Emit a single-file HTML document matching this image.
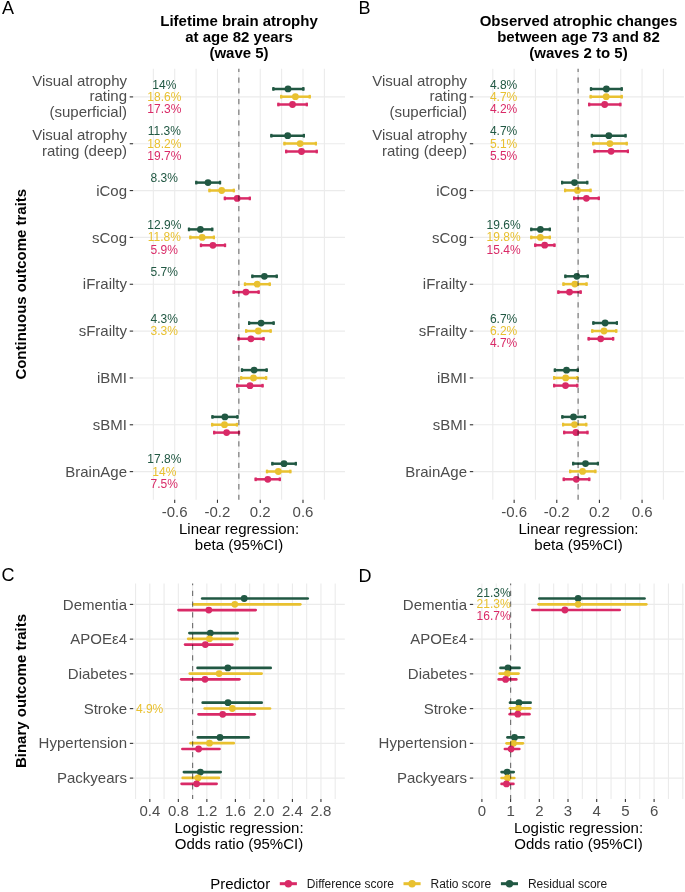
<!DOCTYPE html><html><head><meta charset="utf-8"><style>html,body{margin:0;padding:0;background:#fff;}svg{display:block;will-change:transform;}text{font-family:"Liberation Sans", sans-serif;}</style></head><body>
<svg width="685" height="892" viewBox="0 0 685 892">
<rect width="685" height="892" fill="#fff"/>
<line x1="153.33" y1="68.80" x2="153.33" y2="499.70" stroke="#EBEBEB" stroke-width="1.1"/>
<line x1="174.71" y1="68.80" x2="174.71" y2="499.70" stroke="#EBEBEB" stroke-width="1.1"/>
<line x1="196.09" y1="68.80" x2="196.09" y2="499.70" stroke="#EBEBEB" stroke-width="1.1"/>
<line x1="217.47" y1="68.80" x2="217.47" y2="499.70" stroke="#EBEBEB" stroke-width="1.1"/>
<line x1="238.85" y1="68.80" x2="238.85" y2="499.70" stroke="#EBEBEB" stroke-width="1.1"/>
<line x1="260.23" y1="68.80" x2="260.23" y2="499.70" stroke="#EBEBEB" stroke-width="1.1"/>
<line x1="281.61" y1="68.80" x2="281.61" y2="499.70" stroke="#EBEBEB" stroke-width="1.1"/>
<line x1="302.99" y1="68.80" x2="302.99" y2="499.70" stroke="#EBEBEB" stroke-width="1.1"/>
<line x1="324.37" y1="68.80" x2="324.37" y2="499.70" stroke="#EBEBEB" stroke-width="1.1"/>
<line x1="133.10" y1="96.90" x2="345.00" y2="96.90" stroke="#EBEBEB" stroke-width="1.1"/>
<line x1="133.10" y1="143.74" x2="345.00" y2="143.74" stroke="#EBEBEB" stroke-width="1.1"/>
<line x1="133.10" y1="190.58" x2="345.00" y2="190.58" stroke="#EBEBEB" stroke-width="1.1"/>
<line x1="133.10" y1="237.42" x2="345.00" y2="237.42" stroke="#EBEBEB" stroke-width="1.1"/>
<line x1="133.10" y1="284.26" x2="345.00" y2="284.26" stroke="#EBEBEB" stroke-width="1.1"/>
<line x1="133.10" y1="331.10" x2="345.00" y2="331.10" stroke="#EBEBEB" stroke-width="1.1"/>
<line x1="133.10" y1="377.94" x2="345.00" y2="377.94" stroke="#EBEBEB" stroke-width="1.1"/>
<line x1="133.10" y1="424.78" x2="345.00" y2="424.78" stroke="#EBEBEB" stroke-width="1.1"/>
<line x1="133.10" y1="471.62" x2="345.00" y2="471.62" stroke="#EBEBEB" stroke-width="1.1"/>
<line x1="492.82" y1="68.80" x2="492.82" y2="499.70" stroke="#EBEBEB" stroke-width="1.1"/>
<line x1="514.14" y1="68.80" x2="514.14" y2="499.70" stroke="#EBEBEB" stroke-width="1.1"/>
<line x1="535.46" y1="68.80" x2="535.46" y2="499.70" stroke="#EBEBEB" stroke-width="1.1"/>
<line x1="556.78" y1="68.80" x2="556.78" y2="499.70" stroke="#EBEBEB" stroke-width="1.1"/>
<line x1="578.10" y1="68.80" x2="578.10" y2="499.70" stroke="#EBEBEB" stroke-width="1.1"/>
<line x1="599.42" y1="68.80" x2="599.42" y2="499.70" stroke="#EBEBEB" stroke-width="1.1"/>
<line x1="620.74" y1="68.80" x2="620.74" y2="499.70" stroke="#EBEBEB" stroke-width="1.1"/>
<line x1="642.06" y1="68.80" x2="642.06" y2="499.70" stroke="#EBEBEB" stroke-width="1.1"/>
<line x1="663.38" y1="68.80" x2="663.38" y2="499.70" stroke="#EBEBEB" stroke-width="1.1"/>
<line x1="473.20" y1="96.90" x2="683.90" y2="96.90" stroke="#EBEBEB" stroke-width="1.1"/>
<line x1="473.20" y1="143.74" x2="683.90" y2="143.74" stroke="#EBEBEB" stroke-width="1.1"/>
<line x1="473.20" y1="190.58" x2="683.90" y2="190.58" stroke="#EBEBEB" stroke-width="1.1"/>
<line x1="473.20" y1="237.42" x2="683.90" y2="237.42" stroke="#EBEBEB" stroke-width="1.1"/>
<line x1="473.20" y1="284.26" x2="683.90" y2="284.26" stroke="#EBEBEB" stroke-width="1.1"/>
<line x1="473.20" y1="331.10" x2="683.90" y2="331.10" stroke="#EBEBEB" stroke-width="1.1"/>
<line x1="473.20" y1="377.94" x2="683.90" y2="377.94" stroke="#EBEBEB" stroke-width="1.1"/>
<line x1="473.20" y1="424.78" x2="683.90" y2="424.78" stroke="#EBEBEB" stroke-width="1.1"/>
<line x1="473.20" y1="471.62" x2="683.90" y2="471.62" stroke="#EBEBEB" stroke-width="1.1"/>
<line x1="135.56" y1="583.60" x2="135.56" y2="798.90" stroke="#EBEBEB" stroke-width="1.1"/>
<line x1="149.82" y1="583.60" x2="149.82" y2="798.90" stroke="#EBEBEB" stroke-width="1.1"/>
<line x1="164.08" y1="583.60" x2="164.08" y2="798.90" stroke="#EBEBEB" stroke-width="1.1"/>
<line x1="178.34" y1="583.60" x2="178.34" y2="798.90" stroke="#EBEBEB" stroke-width="1.1"/>
<line x1="192.60" y1="583.60" x2="192.60" y2="798.90" stroke="#EBEBEB" stroke-width="1.1"/>
<line x1="206.86" y1="583.60" x2="206.86" y2="798.90" stroke="#EBEBEB" stroke-width="1.1"/>
<line x1="221.12" y1="583.60" x2="221.12" y2="798.90" stroke="#EBEBEB" stroke-width="1.1"/>
<line x1="235.38" y1="583.60" x2="235.38" y2="798.90" stroke="#EBEBEB" stroke-width="1.1"/>
<line x1="249.64" y1="583.60" x2="249.64" y2="798.90" stroke="#EBEBEB" stroke-width="1.1"/>
<line x1="263.90" y1="583.60" x2="263.90" y2="798.90" stroke="#EBEBEB" stroke-width="1.1"/>
<line x1="278.16" y1="583.60" x2="278.16" y2="798.90" stroke="#EBEBEB" stroke-width="1.1"/>
<line x1="292.42" y1="583.60" x2="292.42" y2="798.90" stroke="#EBEBEB" stroke-width="1.1"/>
<line x1="306.68" y1="583.60" x2="306.68" y2="798.90" stroke="#EBEBEB" stroke-width="1.1"/>
<line x1="320.94" y1="583.60" x2="320.94" y2="798.90" stroke="#EBEBEB" stroke-width="1.1"/>
<line x1="335.20" y1="583.60" x2="335.20" y2="798.90" stroke="#EBEBEB" stroke-width="1.1"/>
<line x1="133.20" y1="604.40" x2="344.80" y2="604.40" stroke="#EBEBEB" stroke-width="1.1"/>
<line x1="133.20" y1="639.14" x2="344.80" y2="639.14" stroke="#EBEBEB" stroke-width="1.1"/>
<line x1="133.20" y1="673.88" x2="344.80" y2="673.88" stroke="#EBEBEB" stroke-width="1.1"/>
<line x1="133.20" y1="708.62" x2="344.80" y2="708.62" stroke="#EBEBEB" stroke-width="1.1"/>
<line x1="133.20" y1="743.36" x2="344.80" y2="743.36" stroke="#EBEBEB" stroke-width="1.1"/>
<line x1="133.20" y1="778.10" x2="344.80" y2="778.10" stroke="#EBEBEB" stroke-width="1.1"/>
<line x1="481.90" y1="583.60" x2="481.90" y2="798.90" stroke="#EBEBEB" stroke-width="1.1"/>
<line x1="496.25" y1="583.60" x2="496.25" y2="798.90" stroke="#EBEBEB" stroke-width="1.1"/>
<line x1="510.60" y1="583.60" x2="510.60" y2="798.90" stroke="#EBEBEB" stroke-width="1.1"/>
<line x1="524.95" y1="583.60" x2="524.95" y2="798.90" stroke="#EBEBEB" stroke-width="1.1"/>
<line x1="539.30" y1="583.60" x2="539.30" y2="798.90" stroke="#EBEBEB" stroke-width="1.1"/>
<line x1="553.65" y1="583.60" x2="553.65" y2="798.90" stroke="#EBEBEB" stroke-width="1.1"/>
<line x1="568.00" y1="583.60" x2="568.00" y2="798.90" stroke="#EBEBEB" stroke-width="1.1"/>
<line x1="582.35" y1="583.60" x2="582.35" y2="798.90" stroke="#EBEBEB" stroke-width="1.1"/>
<line x1="596.70" y1="583.60" x2="596.70" y2="798.90" stroke="#EBEBEB" stroke-width="1.1"/>
<line x1="611.05" y1="583.60" x2="611.05" y2="798.90" stroke="#EBEBEB" stroke-width="1.1"/>
<line x1="625.40" y1="583.60" x2="625.40" y2="798.90" stroke="#EBEBEB" stroke-width="1.1"/>
<line x1="639.75" y1="583.60" x2="639.75" y2="798.90" stroke="#EBEBEB" stroke-width="1.1"/>
<line x1="654.10" y1="583.60" x2="654.10" y2="798.90" stroke="#EBEBEB" stroke-width="1.1"/>
<line x1="668.45" y1="583.60" x2="668.45" y2="798.90" stroke="#EBEBEB" stroke-width="1.1"/>
<line x1="682.80" y1="583.60" x2="682.80" y2="798.90" stroke="#EBEBEB" stroke-width="1.1"/>
<line x1="473.20" y1="604.40" x2="683.80" y2="604.40" stroke="#EBEBEB" stroke-width="1.1"/>
<line x1="473.20" y1="639.14" x2="683.80" y2="639.14" stroke="#EBEBEB" stroke-width="1.1"/>
<line x1="473.20" y1="673.88" x2="683.80" y2="673.88" stroke="#EBEBEB" stroke-width="1.1"/>
<line x1="473.20" y1="708.62" x2="683.80" y2="708.62" stroke="#EBEBEB" stroke-width="1.1"/>
<line x1="473.20" y1="743.36" x2="683.80" y2="743.36" stroke="#EBEBEB" stroke-width="1.1"/>
<line x1="473.20" y1="778.10" x2="683.80" y2="778.10" stroke="#EBEBEB" stroke-width="1.1"/>
<line x1="272.30" y1="88.90" x2="304.40" y2="88.90" stroke="#215843" stroke-width="2.5"/>
<rect x="272.30" y="87.05" width="2.2" height="3.7" fill="#215843"/>
<rect x="302.20" y="87.05" width="2.2" height="3.7" fill="#215843"/>
<circle cx="288.00" cy="88.90" r="3.4" fill="#215843"/>
<line x1="280.10" y1="96.70" x2="310.80" y2="96.70" stroke="#E9C130" stroke-width="2.5"/>
<rect x="280.10" y="94.85" width="2.2" height="3.7" fill="#E9C130"/>
<rect x="308.60" y="94.85" width="2.2" height="3.7" fill="#E9C130"/>
<circle cx="295.40" cy="96.70" r="3.4" fill="#E9C130"/>
<line x1="277.30" y1="104.50" x2="307.90" y2="104.50" stroke="#D92A67" stroke-width="2.5"/>
<rect x="277.30" y="102.65" width="2.2" height="3.7" fill="#D92A67"/>
<rect x="305.70" y="102.65" width="2.2" height="3.7" fill="#D92A67"/>
<circle cx="292.50" cy="104.50" r="3.4" fill="#D92A67"/>
<line x1="270.30" y1="135.70" x2="305.00" y2="135.70" stroke="#215843" stroke-width="2.5"/>
<rect x="270.30" y="133.85" width="2.2" height="3.7" fill="#215843"/>
<rect x="302.80" y="133.85" width="2.2" height="3.7" fill="#215843"/>
<circle cx="287.70" cy="135.70" r="3.4" fill="#215843"/>
<line x1="283.40" y1="143.60" x2="317.00" y2="143.60" stroke="#E9C130" stroke-width="2.5"/>
<rect x="283.40" y="141.75" width="2.2" height="3.7" fill="#E9C130"/>
<rect x="314.80" y="141.75" width="2.2" height="3.7" fill="#E9C130"/>
<circle cx="300.10" cy="143.60" r="3.4" fill="#E9C130"/>
<line x1="285.10" y1="151.50" x2="317.80" y2="151.50" stroke="#D92A67" stroke-width="2.5"/>
<rect x="285.10" y="149.65" width="2.2" height="3.7" fill="#D92A67"/>
<rect x="315.60" y="149.65" width="2.2" height="3.7" fill="#D92A67"/>
<circle cx="301.50" cy="151.50" r="3.4" fill="#D92A67"/>
<line x1="195.20" y1="182.60" x2="221.10" y2="182.60" stroke="#215843" stroke-width="2.5"/>
<rect x="195.20" y="180.75" width="2.2" height="3.7" fill="#215843"/>
<rect x="218.90" y="180.75" width="2.2" height="3.7" fill="#215843"/>
<circle cx="208.00" cy="182.60" r="3.4" fill="#215843"/>
<line x1="208.40" y1="190.50" x2="234.90" y2="190.50" stroke="#E9C130" stroke-width="2.5"/>
<rect x="208.40" y="188.65" width="2.2" height="3.7" fill="#E9C130"/>
<rect x="232.70" y="188.65" width="2.2" height="3.7" fill="#E9C130"/>
<circle cx="221.70" cy="190.50" r="3.4" fill="#E9C130"/>
<line x1="223.80" y1="198.40" x2="250.90" y2="198.40" stroke="#D92A67" stroke-width="2.5"/>
<rect x="223.80" y="196.55" width="2.2" height="3.7" fill="#D92A67"/>
<rect x="248.70" y="196.55" width="2.2" height="3.7" fill="#D92A67"/>
<circle cx="237.20" cy="198.40" r="3.4" fill="#D92A67"/>
<line x1="187.90" y1="229.40" x2="213.30" y2="229.40" stroke="#215843" stroke-width="2.5"/>
<rect x="187.90" y="227.55" width="2.2" height="3.7" fill="#215843"/>
<rect x="211.10" y="227.55" width="2.2" height="3.7" fill="#215843"/>
<circle cx="200.40" cy="229.40" r="3.4" fill="#215843"/>
<line x1="189.30" y1="237.40" x2="215.00" y2="237.40" stroke="#E9C130" stroke-width="2.5"/>
<rect x="189.30" y="235.55" width="2.2" height="3.7" fill="#E9C130"/>
<rect x="212.80" y="235.55" width="2.2" height="3.7" fill="#E9C130"/>
<circle cx="202.20" cy="237.40" r="3.4" fill="#E9C130"/>
<line x1="199.90" y1="245.30" x2="226.10" y2="245.30" stroke="#D92A67" stroke-width="2.5"/>
<rect x="199.90" y="243.45" width="2.2" height="3.7" fill="#D92A67"/>
<rect x="223.90" y="243.45" width="2.2" height="3.7" fill="#D92A67"/>
<circle cx="212.90" cy="245.30" r="3.4" fill="#D92A67"/>
<line x1="251.30" y1="276.30" x2="277.80" y2="276.30" stroke="#215843" stroke-width="2.5"/>
<rect x="251.30" y="274.45" width="2.2" height="3.7" fill="#215843"/>
<rect x="275.60" y="274.45" width="2.2" height="3.7" fill="#215843"/>
<circle cx="264.40" cy="276.30" r="3.4" fill="#215843"/>
<line x1="243.90" y1="284.20" x2="270.80" y2="284.20" stroke="#E9C130" stroke-width="2.5"/>
<rect x="243.90" y="282.35" width="2.2" height="3.7" fill="#E9C130"/>
<rect x="268.60" y="282.35" width="2.2" height="3.7" fill="#E9C130"/>
<circle cx="257.10" cy="284.20" r="3.4" fill="#E9C130"/>
<line x1="232.60" y1="292.10" x2="259.70" y2="292.10" stroke="#D92A67" stroke-width="2.5"/>
<rect x="232.60" y="290.25" width="2.2" height="3.7" fill="#D92A67"/>
<rect x="257.50" y="290.25" width="2.2" height="3.7" fill="#D92A67"/>
<circle cx="245.90" cy="292.10" r="3.4" fill="#D92A67"/>
<line x1="248.00" y1="323.10" x2="274.70" y2="323.10" stroke="#215843" stroke-width="2.5"/>
<rect x="248.00" y="321.25" width="2.2" height="3.7" fill="#215843"/>
<rect x="272.50" y="321.25" width="2.2" height="3.7" fill="#215843"/>
<circle cx="261.10" cy="323.10" r="3.4" fill="#215843"/>
<line x1="245.10" y1="331.00" x2="271.70" y2="331.00" stroke="#E9C130" stroke-width="2.5"/>
<rect x="245.10" y="329.15" width="2.2" height="3.7" fill="#E9C130"/>
<rect x="269.50" y="329.15" width="2.2" height="3.7" fill="#E9C130"/>
<circle cx="258.30" cy="331.00" r="3.4" fill="#E9C130"/>
<line x1="237.50" y1="338.80" x2="264.60" y2="338.80" stroke="#D92A67" stroke-width="2.5"/>
<rect x="237.50" y="336.95" width="2.2" height="3.7" fill="#D92A67"/>
<rect x="262.40" y="336.95" width="2.2" height="3.7" fill="#D92A67"/>
<circle cx="250.90" cy="338.80" r="3.4" fill="#D92A67"/>
<line x1="240.90" y1="370.10" x2="267.70" y2="370.10" stroke="#215843" stroke-width="2.5"/>
<rect x="240.90" y="368.25" width="2.2" height="3.7" fill="#215843"/>
<rect x="265.50" y="368.25" width="2.2" height="3.7" fill="#215843"/>
<circle cx="254.10" cy="370.10" r="3.4" fill="#215843"/>
<line x1="240.10" y1="378.00" x2="267.20" y2="378.00" stroke="#E9C130" stroke-width="2.5"/>
<rect x="240.10" y="376.15" width="2.2" height="3.7" fill="#E9C130"/>
<rect x="265.00" y="376.15" width="2.2" height="3.7" fill="#E9C130"/>
<circle cx="253.50" cy="378.00" r="3.4" fill="#E9C130"/>
<line x1="236.20" y1="385.70" x2="263.60" y2="385.70" stroke="#D92A67" stroke-width="2.5"/>
<rect x="236.20" y="383.85" width="2.2" height="3.7" fill="#D92A67"/>
<rect x="261.40" y="383.85" width="2.2" height="3.7" fill="#D92A67"/>
<circle cx="250.00" cy="385.70" r="3.4" fill="#D92A67"/>
<line x1="211.40" y1="416.90" x2="238.50" y2="416.90" stroke="#215843" stroke-width="2.5"/>
<rect x="211.40" y="415.05" width="2.2" height="3.7" fill="#215843"/>
<rect x="236.30" y="415.05" width="2.2" height="3.7" fill="#215843"/>
<circle cx="224.90" cy="416.90" r="3.4" fill="#215843"/>
<line x1="211.10" y1="424.70" x2="238.00" y2="424.70" stroke="#E9C130" stroke-width="2.5"/>
<rect x="211.10" y="422.85" width="2.2" height="3.7" fill="#E9C130"/>
<rect x="235.80" y="422.85" width="2.2" height="3.7" fill="#E9C130"/>
<circle cx="224.50" cy="424.70" r="3.4" fill="#E9C130"/>
<line x1="213.10" y1="432.60" x2="240.10" y2="432.60" stroke="#D92A67" stroke-width="2.5"/>
<rect x="213.10" y="430.75" width="2.2" height="3.7" fill="#D92A67"/>
<rect x="237.90" y="430.75" width="2.2" height="3.7" fill="#D92A67"/>
<circle cx="226.60" cy="432.60" r="3.4" fill="#D92A67"/>
<line x1="271.30" y1="463.70" x2="296.90" y2="463.70" stroke="#215843" stroke-width="2.5"/>
<rect x="271.30" y="461.85" width="2.2" height="3.7" fill="#215843"/>
<rect x="294.70" y="461.85" width="2.2" height="3.7" fill="#215843"/>
<circle cx="284.00" cy="463.70" r="3.4" fill="#215843"/>
<line x1="265.90" y1="471.50" x2="291.40" y2="471.50" stroke="#E9C130" stroke-width="2.5"/>
<rect x="265.90" y="469.65" width="2.2" height="3.7" fill="#E9C130"/>
<rect x="289.20" y="469.65" width="2.2" height="3.7" fill="#E9C130"/>
<circle cx="278.30" cy="471.50" r="3.4" fill="#E9C130"/>
<line x1="254.60" y1="479.30" x2="280.90" y2="479.30" stroke="#D92A67" stroke-width="2.5"/>
<rect x="254.60" y="477.45" width="2.2" height="3.7" fill="#D92A67"/>
<rect x="278.70" y="477.45" width="2.2" height="3.7" fill="#D92A67"/>
<circle cx="267.80" cy="479.30" r="3.4" fill="#D92A67"/>
<line x1="589.90" y1="89.00" x2="622.80" y2="89.00" stroke="#215843" stroke-width="2.5"/>
<rect x="589.90" y="87.15" width="2.2" height="3.7" fill="#215843"/>
<rect x="620.60" y="87.15" width="2.2" height="3.7" fill="#215843"/>
<circle cx="606.40" cy="89.00" r="3.4" fill="#215843"/>
<line x1="589.60" y1="96.70" x2="622.80" y2="96.70" stroke="#E9C130" stroke-width="2.5"/>
<rect x="589.60" y="94.85" width="2.2" height="3.7" fill="#E9C130"/>
<rect x="620.60" y="94.85" width="2.2" height="3.7" fill="#E9C130"/>
<circle cx="606.20" cy="96.70" r="3.4" fill="#E9C130"/>
<line x1="588.10" y1="104.50" x2="621.40" y2="104.50" stroke="#D92A67" stroke-width="2.5"/>
<rect x="588.10" y="102.65" width="2.2" height="3.7" fill="#D92A67"/>
<rect x="619.20" y="102.65" width="2.2" height="3.7" fill="#D92A67"/>
<circle cx="604.70" cy="104.50" r="3.4" fill="#D92A67"/>
<line x1="590.80" y1="135.70" x2="626.60" y2="135.70" stroke="#215843" stroke-width="2.5"/>
<rect x="590.80" y="133.85" width="2.2" height="3.7" fill="#215843"/>
<rect x="624.40" y="133.85" width="2.2" height="3.7" fill="#215843"/>
<circle cx="608.80" cy="135.70" r="3.4" fill="#215843"/>
<line x1="592.20" y1="143.60" x2="627.80" y2="143.60" stroke="#E9C130" stroke-width="2.5"/>
<rect x="592.20" y="141.75" width="2.2" height="3.7" fill="#E9C130"/>
<rect x="625.60" y="141.75" width="2.2" height="3.7" fill="#E9C130"/>
<circle cx="609.90" cy="143.60" r="3.4" fill="#E9C130"/>
<line x1="593.40" y1="151.30" x2="629.00" y2="151.30" stroke="#D92A67" stroke-width="2.5"/>
<rect x="593.40" y="149.45" width="2.2" height="3.7" fill="#D92A67"/>
<rect x="626.80" y="149.45" width="2.2" height="3.7" fill="#D92A67"/>
<circle cx="611.10" cy="151.30" r="3.4" fill="#D92A67"/>
<line x1="561.00" y1="182.60" x2="588.30" y2="182.60" stroke="#215843" stroke-width="2.5"/>
<rect x="561.00" y="180.75" width="2.2" height="3.7" fill="#215843"/>
<rect x="586.10" y="180.75" width="2.2" height="3.7" fill="#215843"/>
<circle cx="574.50" cy="182.60" r="3.4" fill="#215843"/>
<line x1="564.00" y1="190.40" x2="591.60" y2="190.40" stroke="#E9C130" stroke-width="2.5"/>
<rect x="564.00" y="188.55" width="2.2" height="3.7" fill="#E9C130"/>
<rect x="589.40" y="188.55" width="2.2" height="3.7" fill="#E9C130"/>
<circle cx="577.50" cy="190.40" r="3.4" fill="#E9C130"/>
<line x1="573.00" y1="198.30" x2="599.90" y2="198.30" stroke="#D92A67" stroke-width="2.5"/>
<rect x="573.00" y="196.45" width="2.2" height="3.7" fill="#D92A67"/>
<rect x="597.70" y="196.45" width="2.2" height="3.7" fill="#D92A67"/>
<circle cx="586.40" cy="198.30" r="3.4" fill="#D92A67"/>
<line x1="530.20" y1="229.40" x2="550.90" y2="229.40" stroke="#215843" stroke-width="2.5"/>
<rect x="530.20" y="227.55" width="2.2" height="3.7" fill="#215843"/>
<rect x="548.70" y="227.55" width="2.2" height="3.7" fill="#215843"/>
<circle cx="540.40" cy="229.40" r="3.4" fill="#215843"/>
<line x1="530.20" y1="237.40" x2="550.90" y2="237.40" stroke="#E9C130" stroke-width="2.5"/>
<rect x="530.20" y="235.55" width="2.2" height="3.7" fill="#E9C130"/>
<rect x="548.70" y="235.55" width="2.2" height="3.7" fill="#E9C130"/>
<circle cx="540.40" cy="237.40" r="3.4" fill="#E9C130"/>
<line x1="534.20" y1="245.20" x2="555.50" y2="245.20" stroke="#D92A67" stroke-width="2.5"/>
<rect x="534.20" y="243.35" width="2.2" height="3.7" fill="#D92A67"/>
<rect x="553.30" y="243.35" width="2.2" height="3.7" fill="#D92A67"/>
<circle cx="544.70" cy="245.20" r="3.4" fill="#D92A67"/>
<line x1="564.30" y1="276.30" x2="588.80" y2="276.30" stroke="#215843" stroke-width="2.5"/>
<rect x="564.30" y="274.45" width="2.2" height="3.7" fill="#215843"/>
<rect x="586.60" y="274.45" width="2.2" height="3.7" fill="#215843"/>
<circle cx="576.80" cy="276.30" r="3.4" fill="#215843"/>
<line x1="562.40" y1="284.10" x2="587.60" y2="284.10" stroke="#E9C130" stroke-width="2.5"/>
<rect x="562.40" y="282.25" width="2.2" height="3.7" fill="#E9C130"/>
<rect x="585.40" y="282.25" width="2.2" height="3.7" fill="#E9C130"/>
<circle cx="574.80" cy="284.10" r="3.4" fill="#E9C130"/>
<line x1="557.30" y1="292.10" x2="581.70" y2="292.10" stroke="#D92A67" stroke-width="2.5"/>
<rect x="557.30" y="290.25" width="2.2" height="3.7" fill="#D92A67"/>
<rect x="579.50" y="290.25" width="2.2" height="3.7" fill="#D92A67"/>
<circle cx="569.50" cy="292.10" r="3.4" fill="#D92A67"/>
<line x1="592.30" y1="323.00" x2="618.00" y2="323.00" stroke="#215843" stroke-width="2.5"/>
<rect x="592.30" y="321.15" width="2.2" height="3.7" fill="#215843"/>
<rect x="615.80" y="321.15" width="2.2" height="3.7" fill="#215843"/>
<circle cx="605.10" cy="323.00" r="3.4" fill="#215843"/>
<line x1="591.20" y1="331.00" x2="617.30" y2="331.00" stroke="#E9C130" stroke-width="2.5"/>
<rect x="591.20" y="329.15" width="2.2" height="3.7" fill="#E9C130"/>
<rect x="615.10" y="329.15" width="2.2" height="3.7" fill="#E9C130"/>
<circle cx="604.00" cy="331.00" r="3.4" fill="#E9C130"/>
<line x1="587.60" y1="338.80" x2="614.20" y2="338.80" stroke="#D92A67" stroke-width="2.5"/>
<rect x="587.60" y="336.95" width="2.2" height="3.7" fill="#D92A67"/>
<rect x="612.00" y="336.95" width="2.2" height="3.7" fill="#D92A67"/>
<circle cx="600.70" cy="338.80" r="3.4" fill="#D92A67"/>
<line x1="553.80" y1="370.20" x2="578.80" y2="370.20" stroke="#215843" stroke-width="2.5"/>
<rect x="553.80" y="368.35" width="2.2" height="3.7" fill="#215843"/>
<rect x="576.60" y="368.35" width="2.2" height="3.7" fill="#215843"/>
<circle cx="566.50" cy="370.20" r="3.4" fill="#215843"/>
<line x1="553.10" y1="377.90" x2="578.30" y2="377.90" stroke="#E9C130" stroke-width="2.5"/>
<rect x="553.10" y="376.05" width="2.2" height="3.7" fill="#E9C130"/>
<rect x="576.10" y="376.05" width="2.2" height="3.7" fill="#E9C130"/>
<circle cx="565.70" cy="377.90" r="3.4" fill="#E9C130"/>
<line x1="553.10" y1="385.60" x2="578.30" y2="385.60" stroke="#D92A67" stroke-width="2.5"/>
<rect x="553.10" y="383.75" width="2.2" height="3.7" fill="#D92A67"/>
<rect x="576.10" y="383.75" width="2.2" height="3.7" fill="#D92A67"/>
<circle cx="565.50" cy="385.60" r="3.4" fill="#D92A67"/>
<line x1="561.30" y1="416.90" x2="586.10" y2="416.90" stroke="#215843" stroke-width="2.5"/>
<rect x="561.30" y="415.05" width="2.2" height="3.7" fill="#215843"/>
<rect x="583.90" y="415.05" width="2.2" height="3.7" fill="#215843"/>
<circle cx="573.50" cy="416.90" r="3.4" fill="#215843"/>
<line x1="562.00" y1="424.60" x2="587.30" y2="424.60" stroke="#E9C130" stroke-width="2.5"/>
<rect x="562.00" y="422.75" width="2.2" height="3.7" fill="#E9C130"/>
<rect x="585.10" y="422.75" width="2.2" height="3.7" fill="#E9C130"/>
<circle cx="574.50" cy="424.60" r="3.4" fill="#E9C130"/>
<line x1="563.10" y1="432.50" x2="588.50" y2="432.50" stroke="#D92A67" stroke-width="2.5"/>
<rect x="563.10" y="430.65" width="2.2" height="3.7" fill="#D92A67"/>
<rect x="586.30" y="430.65" width="2.2" height="3.7" fill="#D92A67"/>
<circle cx="575.90" cy="432.50" r="3.4" fill="#D92A67"/>
<line x1="572.10" y1="463.60" x2="599.00" y2="463.60" stroke="#215843" stroke-width="2.5"/>
<rect x="572.10" y="461.75" width="2.2" height="3.7" fill="#215843"/>
<rect x="596.80" y="461.75" width="2.2" height="3.7" fill="#215843"/>
<circle cx="585.50" cy="463.60" r="3.4" fill="#215843"/>
<line x1="569.10" y1="471.40" x2="596.40" y2="471.40" stroke="#E9C130" stroke-width="2.5"/>
<rect x="569.10" y="469.55" width="2.2" height="3.7" fill="#E9C130"/>
<rect x="594.20" y="469.55" width="2.2" height="3.7" fill="#E9C130"/>
<circle cx="582.60" cy="471.40" r="3.4" fill="#E9C130"/>
<line x1="562.70" y1="479.30" x2="590.30" y2="479.30" stroke="#D92A67" stroke-width="2.5"/>
<rect x="562.70" y="477.45" width="2.2" height="3.7" fill="#D92A67"/>
<rect x="588.10" y="477.45" width="2.2" height="3.7" fill="#D92A67"/>
<circle cx="576.30" cy="479.30" r="3.4" fill="#D92A67"/>
<line x1="202.20" y1="598.50" x2="307.70" y2="598.50" stroke="#215843" stroke-width="2.7" stroke-linecap="round"/>
<circle cx="244.20" cy="598.50" r="3.4" fill="#215843"/>
<line x1="193.80" y1="604.30" x2="300.30" y2="604.30" stroke="#E9C130" stroke-width="2.7" stroke-linecap="round"/>
<circle cx="234.80" cy="604.30" r="3.4" fill="#E9C130"/>
<line x1="178.50" y1="610.10" x2="255.70" y2="610.10" stroke="#D92A67" stroke-width="2.7" stroke-linecap="round"/>
<circle cx="208.80" cy="610.10" r="3.4" fill="#D92A67"/>
<line x1="189.40" y1="633.10" x2="237.60" y2="633.10" stroke="#215843" stroke-width="2.7" stroke-linecap="round"/>
<circle cx="210.30" cy="633.10" r="3.4" fill="#215843"/>
<line x1="188.20" y1="638.80" x2="237.60" y2="638.80" stroke="#E9C130" stroke-width="2.7" stroke-linecap="round"/>
<circle cx="209.50" cy="638.80" r="3.4" fill="#E9C130"/>
<line x1="185.10" y1="644.60" x2="232.30" y2="644.60" stroke="#D92A67" stroke-width="2.7" stroke-linecap="round"/>
<circle cx="205.30" cy="644.60" r="3.4" fill="#D92A67"/>
<line x1="197.60" y1="667.90" x2="270.70" y2="667.90" stroke="#215843" stroke-width="2.7" stroke-linecap="round"/>
<circle cx="227.80" cy="667.90" r="3.4" fill="#215843"/>
<line x1="189.80" y1="673.60" x2="261.60" y2="673.60" stroke="#E9C130" stroke-width="2.7" stroke-linecap="round"/>
<circle cx="219.10" cy="673.60" r="3.4" fill="#E9C130"/>
<line x1="181.20" y1="679.30" x2="239.40" y2="679.30" stroke="#D92A67" stroke-width="2.7" stroke-linecap="round"/>
<circle cx="205.00" cy="679.30" r="3.4" fill="#D92A67"/>
<line x1="202.70" y1="702.70" x2="261.70" y2="702.70" stroke="#215843" stroke-width="2.7" stroke-linecap="round"/>
<circle cx="228.00" cy="702.70" r="3.4" fill="#215843"/>
<line x1="204.70" y1="708.50" x2="270.00" y2="708.50" stroke="#E9C130" stroke-width="2.7" stroke-linecap="round"/>
<circle cx="232.30" cy="708.50" r="3.4" fill="#E9C130"/>
<line x1="198.50" y1="714.30" x2="254.70" y2="714.30" stroke="#D92A67" stroke-width="2.7" stroke-linecap="round"/>
<circle cx="222.70" cy="714.30" r="3.4" fill="#D92A67"/>
<line x1="197.90" y1="737.40" x2="248.60" y2="737.40" stroke="#215843" stroke-width="2.7" stroke-linecap="round"/>
<circle cx="220.00" cy="737.40" r="3.4" fill="#215843"/>
<line x1="190.60" y1="743.20" x2="233.70" y2="743.20" stroke="#E9C130" stroke-width="2.7" stroke-linecap="round"/>
<circle cx="209.50" cy="743.20" r="3.4" fill="#E9C130"/>
<line x1="182.40" y1="749.00" x2="219.50" y2="749.00" stroke="#D92A67" stroke-width="2.7" stroke-linecap="round"/>
<circle cx="198.60" cy="749.00" r="3.4" fill="#D92A67"/>
<line x1="183.90" y1="772.10" x2="220.70" y2="772.10" stroke="#215843" stroke-width="2.7" stroke-linecap="round"/>
<circle cx="200.40" cy="772.10" r="3.4" fill="#215843"/>
<line x1="182.70" y1="777.90" x2="218.90" y2="777.90" stroke="#E9C130" stroke-width="2.7" stroke-linecap="round"/>
<circle cx="198.00" cy="777.90" r="3.4" fill="#E9C130"/>
<line x1="181.60" y1="783.80" x2="216.60" y2="783.80" stroke="#D92A67" stroke-width="2.7" stroke-linecap="round"/>
<circle cx="196.60" cy="783.80" r="3.4" fill="#D92A67"/>
<line x1="539.40" y1="598.50" x2="644.50" y2="598.50" stroke="#215843" stroke-width="2.7" stroke-linecap="round"/>
<circle cx="578.10" cy="598.50" r="3.4" fill="#215843"/>
<line x1="538.60" y1="604.30" x2="646.30" y2="604.30" stroke="#E9C130" stroke-width="2.7" stroke-linecap="round"/>
<circle cx="578.10" cy="604.30" r="3.4" fill="#E9C130"/>
<line x1="532.40" y1="610.00" x2="619.70" y2="610.00" stroke="#D92A67" stroke-width="2.7" stroke-linecap="round"/>
<circle cx="564.90" cy="610.00" r="3.4" fill="#D92A67"/>
<line x1="500.50" y1="667.90" x2="519.50" y2="667.90" stroke="#215843" stroke-width="2.7" stroke-linecap="round"/>
<circle cx="508.00" cy="667.90" r="3.4" fill="#215843"/>
<line x1="499.60" y1="673.60" x2="518.50" y2="673.60" stroke="#E9C130" stroke-width="2.7" stroke-linecap="round"/>
<circle cx="507.30" cy="673.60" r="3.4" fill="#E9C130"/>
<line x1="498.70" y1="679.40" x2="516.30" y2="679.40" stroke="#D92A67" stroke-width="2.7" stroke-linecap="round"/>
<circle cx="505.60" cy="679.40" r="3.4" fill="#D92A67"/>
<line x1="510.00" y1="702.70" x2="530.60" y2="702.70" stroke="#215843" stroke-width="2.7" stroke-linecap="round"/>
<circle cx="518.90" cy="702.70" r="3.4" fill="#215843"/>
<line x1="509.90" y1="708.30" x2="530.30" y2="708.30" stroke="#E9C130" stroke-width="2.7" stroke-linecap="round"/>
<circle cx="518.50" cy="708.30" r="3.4" fill="#E9C130"/>
<line x1="509.70" y1="714.20" x2="529.40" y2="714.20" stroke="#D92A67" stroke-width="2.7" stroke-linecap="round"/>
<circle cx="517.80" cy="714.20" r="3.4" fill="#D92A67"/>
<line x1="507.50" y1="737.40" x2="523.70" y2="737.40" stroke="#215843" stroke-width="2.7" stroke-linecap="round"/>
<circle cx="514.50" cy="737.40" r="3.4" fill="#215843"/>
<line x1="506.60" y1="743.30" x2="522.90" y2="743.30" stroke="#E9C130" stroke-width="2.7" stroke-linecap="round"/>
<circle cx="513.50" cy="743.30" r="3.4" fill="#E9C130"/>
<line x1="504.90" y1="749.00" x2="519.30" y2="749.00" stroke="#D92A67" stroke-width="2.7" stroke-linecap="round"/>
<circle cx="511.00" cy="749.00" r="3.4" fill="#D92A67"/>
<line x1="501.60" y1="772.10" x2="513.70" y2="772.10" stroke="#215843" stroke-width="2.7" stroke-linecap="round"/>
<circle cx="507.10" cy="772.10" r="3.4" fill="#215843"/>
<line x1="501.60" y1="778.00" x2="514.30" y2="778.00" stroke="#E9C130" stroke-width="2.7" stroke-linecap="round"/>
<circle cx="507.50" cy="778.00" r="3.4" fill="#E9C130"/>
<line x1="501.60" y1="783.90" x2="513.40" y2="783.90" stroke="#D92A67" stroke-width="2.7" stroke-linecap="round"/>
<circle cx="506.50" cy="783.90" r="3.4" fill="#D92A67"/>
<path d="M238.85 68.80V72.10 M238.85 77.50V82.80 M238.85 88.20V93.50 M238.85 98.90V104.20 M238.85 109.60V114.90 M238.85 120.30V125.60 M238.85 131.00V136.30 M238.85 141.70V147.00 M238.85 152.40V157.70 M238.85 163.10V168.40 M238.85 173.80V179.10 M238.85 184.50V189.80 M238.85 195.20V200.50 M238.85 205.90V211.20 M238.85 216.60V221.90 M238.85 227.30V232.60 M238.85 238.00V243.30 M238.85 248.70V254.00 M238.85 259.40V264.70 M238.85 270.10V275.40 M238.85 280.80V286.10 M238.85 291.50V296.80 M238.85 302.20V307.50 M238.85 312.90V318.20 M238.85 323.60V328.90 M238.85 334.30V339.60 M238.85 345.00V350.30 M238.85 355.70V361.00 M238.85 366.40V371.70 M238.85 377.10V382.40 M238.85 387.80V393.10 M238.85 398.50V403.80 M238.85 409.20V414.50 M238.85 419.90V425.20 M238.85 430.60V435.90 M238.85 441.30V446.60 M238.85 452.00V457.30 M238.85 462.70V468.00 M238.85 473.40V478.70 M238.85 484.10V489.40 M238.85 494.80V499.70" stroke="#000" stroke-opacity="0.5" stroke-width="1.2" fill="none"/>
<path d="M578.10 68.80V72.10 M578.10 77.50V82.80 M578.10 88.20V93.50 M578.10 98.90V104.20 M578.10 109.60V114.90 M578.10 120.30V125.60 M578.10 131.00V136.30 M578.10 141.70V147.00 M578.10 152.40V157.70 M578.10 163.10V168.40 M578.10 173.80V179.10 M578.10 184.50V189.80 M578.10 195.20V200.50 M578.10 205.90V211.20 M578.10 216.60V221.90 M578.10 227.30V232.60 M578.10 238.00V243.30 M578.10 248.70V254.00 M578.10 259.40V264.70 M578.10 270.10V275.40 M578.10 280.80V286.10 M578.10 291.50V296.80 M578.10 302.20V307.50 M578.10 312.90V318.20 M578.10 323.60V328.90 M578.10 334.30V339.60 M578.10 345.00V350.30 M578.10 355.70V361.00 M578.10 366.40V371.70 M578.10 377.10V382.40 M578.10 387.80V393.10 M578.10 398.50V403.80 M578.10 409.20V414.50 M578.10 419.90V425.20 M578.10 430.60V435.90 M578.10 441.30V446.60 M578.10 452.00V457.30 M578.10 462.70V468.00 M578.10 473.40V478.70 M578.10 484.10V489.40 M578.10 494.80V499.70" stroke="#000" stroke-opacity="0.5" stroke-width="1.2" fill="none"/>
<path d="M192.60 583.60V585.25 M192.60 590.80V596.00 M192.60 601.55V606.75 M192.60 612.30V617.50 M192.60 623.05V628.25 M192.60 633.80V639.00 M192.60 644.55V649.75 M192.60 655.30V660.50 M192.60 666.05V671.25 M192.60 676.80V682.00 M192.60 687.55V692.75 M192.60 698.30V703.50 M192.60 709.05V714.25 M192.60 719.80V725.00 M192.60 730.55V735.75 M192.60 741.30V746.50 M192.60 752.05V757.25 M192.60 762.80V768.00 M192.60 773.55V778.75 M192.60 784.30V789.50 M192.60 795.05V798.90" stroke="#000" stroke-opacity="0.5" stroke-width="1.2" fill="none"/>
<path d="M510.60 583.60V585.25 M510.60 590.80V596.00 M510.60 601.55V606.75 M510.60 612.30V617.50 M510.60 623.05V628.25 M510.60 633.80V639.00 M510.60 644.55V649.75 M510.60 655.30V660.50 M510.60 666.05V671.25 M510.60 676.80V682.00 M510.60 687.55V692.75 M510.60 698.30V703.50 M510.60 709.05V714.25 M510.60 719.80V725.00 M510.60 730.55V735.75 M510.60 741.30V746.50 M510.60 752.05V757.25 M510.60 762.80V768.00 M510.60 773.55V778.75 M510.60 784.30V789.50 M510.60 795.05V798.90" stroke="#000" stroke-opacity="0.5" stroke-width="1.2" fill="none"/>
<text x="164.30" y="88.55" font-size="12" text-anchor="middle" fill="#215843">14%</text>
<text x="164.30" y="100.95" font-size="12" text-anchor="middle" fill="#E9C130">18.6%</text>
<text x="164.30" y="113.20" font-size="12" text-anchor="middle" fill="#D92A67">17.3%</text>
<text x="164.30" y="135.39" font-size="12" text-anchor="middle" fill="#215843">11.3%</text>
<text x="164.30" y="147.79" font-size="12" text-anchor="middle" fill="#E9C130">18.2%</text>
<text x="164.30" y="160.04" font-size="12" text-anchor="middle" fill="#D92A67">19.7%</text>
<text x="164.30" y="182.23" font-size="12" text-anchor="middle" fill="#215843">8.3%</text>
<text x="164.30" y="229.07" font-size="12" text-anchor="middle" fill="#215843">12.9%</text>
<text x="164.30" y="241.47" font-size="12" text-anchor="middle" fill="#E9C130">11.8%</text>
<text x="164.30" y="253.72" font-size="12" text-anchor="middle" fill="#D92A67">5.9%</text>
<text x="164.30" y="275.91" font-size="12" text-anchor="middle" fill="#215843">5.7%</text>
<text x="164.30" y="322.75" font-size="12" text-anchor="middle" fill="#215843">4.3%</text>
<text x="164.30" y="335.15" font-size="12" text-anchor="middle" fill="#E9C130">3.3%</text>
<text x="164.30" y="463.27" font-size="12" text-anchor="middle" fill="#215843">17.8%</text>
<text x="164.30" y="475.67" font-size="12" text-anchor="middle" fill="#E9C130">14%</text>
<text x="164.30" y="487.92" font-size="12" text-anchor="middle" fill="#D92A67">7.5%</text>
<text x="503.60" y="88.55" font-size="12" text-anchor="middle" fill="#215843">4.8%</text>
<text x="503.60" y="100.95" font-size="12" text-anchor="middle" fill="#E9C130">4.7%</text>
<text x="503.60" y="113.20" font-size="12" text-anchor="middle" fill="#D92A67">4.2%</text>
<text x="503.60" y="135.39" font-size="12" text-anchor="middle" fill="#215843">4.7%</text>
<text x="503.60" y="147.79" font-size="12" text-anchor="middle" fill="#E9C130">5.1%</text>
<text x="503.60" y="160.04" font-size="12" text-anchor="middle" fill="#D92A67">5.5%</text>
<text x="503.60" y="229.07" font-size="12" text-anchor="middle" fill="#215843">19.6%</text>
<text x="503.60" y="241.47" font-size="12" text-anchor="middle" fill="#E9C130">19.8%</text>
<text x="503.60" y="253.72" font-size="12" text-anchor="middle" fill="#D92A67">15.4%</text>
<text x="503.60" y="322.75" font-size="12" text-anchor="middle" fill="#215843">6.7%</text>
<text x="503.60" y="335.15" font-size="12" text-anchor="middle" fill="#E9C130">6.2%</text>
<text x="503.60" y="347.40" font-size="12" text-anchor="middle" fill="#D92A67">4.7%</text>
<text x="149.60" y="712.67" font-size="12" text-anchor="middle" fill="#E9C130">4.9%</text>
<text x="493.60" y="597.00" font-size="12" text-anchor="middle" fill="#215843">21.3%</text>
<text x="493.60" y="608.45" font-size="12" text-anchor="middle" fill="#E9C130">21.3%</text>
<text x="493.60" y="620.00" font-size="12" text-anchor="middle" fill="#D92A67">16.7%</text>
<line x1="129.70" y1="96.90" x2="133.10" y2="96.90" stroke="#333" stroke-width="1.1"/>
<line x1="129.70" y1="143.74" x2="133.10" y2="143.74" stroke="#333" stroke-width="1.1"/>
<line x1="129.70" y1="190.58" x2="133.10" y2="190.58" stroke="#333" stroke-width="1.1"/>
<line x1="129.70" y1="237.42" x2="133.10" y2="237.42" stroke="#333" stroke-width="1.1"/>
<line x1="129.70" y1="284.26" x2="133.10" y2="284.26" stroke="#333" stroke-width="1.1"/>
<line x1="129.70" y1="331.10" x2="133.10" y2="331.10" stroke="#333" stroke-width="1.1"/>
<line x1="129.70" y1="377.94" x2="133.10" y2="377.94" stroke="#333" stroke-width="1.1"/>
<line x1="129.70" y1="424.78" x2="133.10" y2="424.78" stroke="#333" stroke-width="1.1"/>
<line x1="129.70" y1="471.62" x2="133.10" y2="471.62" stroke="#333" stroke-width="1.1"/>
<line x1="174.71" y1="499.70" x2="174.71" y2="502.90" stroke="#333" stroke-width="1.1"/>
<text x="174.71" y="516.70" font-size="15" text-anchor="middle" fill="#4D4D4D">-0.6</text>
<line x1="217.47" y1="499.70" x2="217.47" y2="502.90" stroke="#333" stroke-width="1.1"/>
<text x="217.47" y="516.70" font-size="15" text-anchor="middle" fill="#4D4D4D">-0.2</text>
<line x1="260.23" y1="499.70" x2="260.23" y2="502.90" stroke="#333" stroke-width="1.1"/>
<text x="260.23" y="516.70" font-size="15" text-anchor="middle" fill="#4D4D4D">0.2</text>
<line x1="302.99" y1="499.70" x2="302.99" y2="502.90" stroke="#333" stroke-width="1.1"/>
<text x="302.99" y="516.70" font-size="15" text-anchor="middle" fill="#4D4D4D">0.6</text>
<text x="127.00" y="85.90" font-size="15" text-anchor="end" fill="#4D4D4D">Visual atrophy</text>
<text x="127.00" y="101.40" font-size="15" text-anchor="end" fill="#4D4D4D">rating</text>
<text x="127.00" y="116.90" font-size="15" text-anchor="end" fill="#4D4D4D">(superficial)</text>
<text x="127.00" y="140.49" font-size="15" text-anchor="end" fill="#4D4D4D">Visual atrophy</text>
<text x="127.00" y="155.99" font-size="15" text-anchor="end" fill="#4D4D4D">rating (deep)</text>
<text x="127.00" y="195.68" font-size="15" text-anchor="end" fill="#4D4D4D">iCog</text>
<text x="127.00" y="242.52" font-size="15" text-anchor="end" fill="#4D4D4D">sCog</text>
<text x="127.00" y="289.36" font-size="15" text-anchor="end" fill="#4D4D4D">iFrailty</text>
<text x="127.00" y="336.20" font-size="15" text-anchor="end" fill="#4D4D4D">sFrailty</text>
<text x="127.00" y="383.04" font-size="15" text-anchor="end" fill="#4D4D4D">iBMI</text>
<text x="127.00" y="429.88" font-size="15" text-anchor="end" fill="#4D4D4D">sBMI</text>
<text x="127.00" y="476.72" font-size="15" text-anchor="end" fill="#4D4D4D">BrainAge</text>
<line x1="469.80" y1="96.90" x2="473.20" y2="96.90" stroke="#333" stroke-width="1.1"/>
<line x1="469.80" y1="143.74" x2="473.20" y2="143.74" stroke="#333" stroke-width="1.1"/>
<line x1="469.80" y1="190.58" x2="473.20" y2="190.58" stroke="#333" stroke-width="1.1"/>
<line x1="469.80" y1="237.42" x2="473.20" y2="237.42" stroke="#333" stroke-width="1.1"/>
<line x1="469.80" y1="284.26" x2="473.20" y2="284.26" stroke="#333" stroke-width="1.1"/>
<line x1="469.80" y1="331.10" x2="473.20" y2="331.10" stroke="#333" stroke-width="1.1"/>
<line x1="469.80" y1="377.94" x2="473.20" y2="377.94" stroke="#333" stroke-width="1.1"/>
<line x1="469.80" y1="424.78" x2="473.20" y2="424.78" stroke="#333" stroke-width="1.1"/>
<line x1="469.80" y1="471.62" x2="473.20" y2="471.62" stroke="#333" stroke-width="1.1"/>
<line x1="514.14" y1="499.70" x2="514.14" y2="502.90" stroke="#333" stroke-width="1.1"/>
<text x="514.14" y="516.70" font-size="15" text-anchor="middle" fill="#4D4D4D">-0.6</text>
<line x1="556.78" y1="499.70" x2="556.78" y2="502.90" stroke="#333" stroke-width="1.1"/>
<text x="556.78" y="516.70" font-size="15" text-anchor="middle" fill="#4D4D4D">-0.2</text>
<line x1="599.42" y1="499.70" x2="599.42" y2="502.90" stroke="#333" stroke-width="1.1"/>
<text x="599.42" y="516.70" font-size="15" text-anchor="middle" fill="#4D4D4D">0.2</text>
<line x1="642.06" y1="499.70" x2="642.06" y2="502.90" stroke="#333" stroke-width="1.1"/>
<text x="642.06" y="516.70" font-size="15" text-anchor="middle" fill="#4D4D4D">0.6</text>
<text x="467.00" y="85.90" font-size="15" text-anchor="end" fill="#4D4D4D">Visual atrophy</text>
<text x="467.00" y="101.40" font-size="15" text-anchor="end" fill="#4D4D4D">rating</text>
<text x="467.00" y="116.90" font-size="15" text-anchor="end" fill="#4D4D4D">(superficial)</text>
<text x="467.00" y="140.49" font-size="15" text-anchor="end" fill="#4D4D4D">Visual atrophy</text>
<text x="467.00" y="155.99" font-size="15" text-anchor="end" fill="#4D4D4D">rating (deep)</text>
<text x="467.00" y="195.68" font-size="15" text-anchor="end" fill="#4D4D4D">iCog</text>
<text x="467.00" y="242.52" font-size="15" text-anchor="end" fill="#4D4D4D">sCog</text>
<text x="467.00" y="289.36" font-size="15" text-anchor="end" fill="#4D4D4D">iFrailty</text>
<text x="467.00" y="336.20" font-size="15" text-anchor="end" fill="#4D4D4D">sFrailty</text>
<text x="467.00" y="383.04" font-size="15" text-anchor="end" fill="#4D4D4D">iBMI</text>
<text x="467.00" y="429.88" font-size="15" text-anchor="end" fill="#4D4D4D">sBMI</text>
<text x="467.00" y="476.72" font-size="15" text-anchor="end" fill="#4D4D4D">BrainAge</text>
<line x1="129.80" y1="604.40" x2="133.20" y2="604.40" stroke="#333" stroke-width="1.1"/>
<line x1="129.80" y1="639.14" x2="133.20" y2="639.14" stroke="#333" stroke-width="1.1"/>
<line x1="129.80" y1="673.88" x2="133.20" y2="673.88" stroke="#333" stroke-width="1.1"/>
<line x1="129.80" y1="708.62" x2="133.20" y2="708.62" stroke="#333" stroke-width="1.1"/>
<line x1="129.80" y1="743.36" x2="133.20" y2="743.36" stroke="#333" stroke-width="1.1"/>
<line x1="129.80" y1="778.10" x2="133.20" y2="778.10" stroke="#333" stroke-width="1.1"/>
<line x1="149.82" y1="798.90" x2="149.82" y2="802.10" stroke="#333" stroke-width="1.1"/>
<text x="149.82" y="815.90" font-size="15" text-anchor="middle" fill="#4D4D4D">0.4</text>
<line x1="178.34" y1="798.90" x2="178.34" y2="802.10" stroke="#333" stroke-width="1.1"/>
<text x="178.34" y="815.90" font-size="15" text-anchor="middle" fill="#4D4D4D">0.8</text>
<line x1="206.86" y1="798.90" x2="206.86" y2="802.10" stroke="#333" stroke-width="1.1"/>
<text x="206.86" y="815.90" font-size="15" text-anchor="middle" fill="#4D4D4D">1.2</text>
<line x1="235.38" y1="798.90" x2="235.38" y2="802.10" stroke="#333" stroke-width="1.1"/>
<text x="235.38" y="815.90" font-size="15" text-anchor="middle" fill="#4D4D4D">1.6</text>
<line x1="263.90" y1="798.90" x2="263.90" y2="802.10" stroke="#333" stroke-width="1.1"/>
<text x="263.90" y="815.90" font-size="15" text-anchor="middle" fill="#4D4D4D">2.0</text>
<line x1="292.42" y1="798.90" x2="292.42" y2="802.10" stroke="#333" stroke-width="1.1"/>
<text x="292.42" y="815.90" font-size="15" text-anchor="middle" fill="#4D4D4D">2.4</text>
<line x1="320.94" y1="798.90" x2="320.94" y2="802.10" stroke="#333" stroke-width="1.1"/>
<text x="320.94" y="815.90" font-size="15" text-anchor="middle" fill="#4D4D4D">2.8</text>
<text x="127.00" y="609.50" font-size="15" text-anchor="end" fill="#4D4D4D">Dementia</text>
<text x="127.00" y="644.24" font-size="15" text-anchor="end" fill="#4D4D4D">APOEε4</text>
<text x="127.00" y="678.98" font-size="15" text-anchor="end" fill="#4D4D4D">Diabetes</text>
<text x="127.00" y="713.72" font-size="15" text-anchor="end" fill="#4D4D4D">Stroke</text>
<text x="127.00" y="748.46" font-size="15" text-anchor="end" fill="#4D4D4D">Hypertension</text>
<text x="127.00" y="783.20" font-size="15" text-anchor="end" fill="#4D4D4D">Packyears</text>
<line x1="469.80" y1="604.40" x2="473.20" y2="604.40" stroke="#333" stroke-width="1.1"/>
<line x1="469.80" y1="639.14" x2="473.20" y2="639.14" stroke="#333" stroke-width="1.1"/>
<line x1="469.80" y1="673.88" x2="473.20" y2="673.88" stroke="#333" stroke-width="1.1"/>
<line x1="469.80" y1="708.62" x2="473.20" y2="708.62" stroke="#333" stroke-width="1.1"/>
<line x1="469.80" y1="743.36" x2="473.20" y2="743.36" stroke="#333" stroke-width="1.1"/>
<line x1="469.80" y1="778.10" x2="473.20" y2="778.10" stroke="#333" stroke-width="1.1"/>
<line x1="481.90" y1="798.90" x2="481.90" y2="802.10" stroke="#333" stroke-width="1.1"/>
<text x="481.90" y="815.90" font-size="15" text-anchor="middle" fill="#4D4D4D">0</text>
<line x1="510.60" y1="798.90" x2="510.60" y2="802.10" stroke="#333" stroke-width="1.1"/>
<text x="510.60" y="815.90" font-size="15" text-anchor="middle" fill="#4D4D4D">1</text>
<line x1="539.30" y1="798.90" x2="539.30" y2="802.10" stroke="#333" stroke-width="1.1"/>
<text x="539.30" y="815.90" font-size="15" text-anchor="middle" fill="#4D4D4D">2</text>
<line x1="568.00" y1="798.90" x2="568.00" y2="802.10" stroke="#333" stroke-width="1.1"/>
<text x="568.00" y="815.90" font-size="15" text-anchor="middle" fill="#4D4D4D">3</text>
<line x1="596.70" y1="798.90" x2="596.70" y2="802.10" stroke="#333" stroke-width="1.1"/>
<text x="596.70" y="815.90" font-size="15" text-anchor="middle" fill="#4D4D4D">4</text>
<line x1="625.40" y1="798.90" x2="625.40" y2="802.10" stroke="#333" stroke-width="1.1"/>
<text x="625.40" y="815.90" font-size="15" text-anchor="middle" fill="#4D4D4D">5</text>
<line x1="654.10" y1="798.90" x2="654.10" y2="802.10" stroke="#333" stroke-width="1.1"/>
<text x="654.10" y="815.90" font-size="15" text-anchor="middle" fill="#4D4D4D">6</text>
<text x="467.00" y="609.50" font-size="15" text-anchor="end" fill="#4D4D4D">Dementia</text>
<text x="467.00" y="644.24" font-size="15" text-anchor="end" fill="#4D4D4D">APOEε4</text>
<text x="467.00" y="678.98" font-size="15" text-anchor="end" fill="#4D4D4D">Diabetes</text>
<text x="467.00" y="713.72" font-size="15" text-anchor="end" fill="#4D4D4D">Stroke</text>
<text x="467.00" y="748.46" font-size="15" text-anchor="end" fill="#4D4D4D">Hypertension</text>
<text x="467.00" y="783.20" font-size="15" text-anchor="end" fill="#4D4D4D">Packyears</text>
<text x="239.00" y="26.00" font-size="15" text-anchor="middle" fill="#000" font-weight="bold">Lifetime brain atrophy</text>
<text x="239.00" y="41.85" font-size="15" text-anchor="middle" fill="#000" font-weight="bold">at age 82 years</text>
<text x="239.00" y="57.70" font-size="15" text-anchor="middle" fill="#000" font-weight="bold">(wave 5)</text>
<text x="578.50" y="26.00" font-size="15" text-anchor="middle" fill="#000" font-weight="bold">Observed atrophic changes</text>
<text x="578.50" y="41.85" font-size="15" text-anchor="middle" fill="#000" font-weight="bold">between age 73 and 82</text>
<text x="578.50" y="57.70" font-size="15" text-anchor="middle" fill="#000" font-weight="bold">(waves 2 to 5)</text>
<text x="239.05" y="534.20" font-size="15" text-anchor="middle" fill="#000">Linear regression:</text>
<text x="239.05" y="549.80" font-size="15" text-anchor="middle" fill="#000">beta (95%CI)</text>
<text x="578.50" y="534.20" font-size="15" text-anchor="middle" fill="#000">Linear regression:</text>
<text x="578.50" y="549.80" font-size="15" text-anchor="middle" fill="#000">beta (95%CI)</text>
<text x="239.00" y="833.40" font-size="15" text-anchor="middle" fill="#000">Logistic regression:</text>
<text x="239.00" y="849.00" font-size="15" text-anchor="middle" fill="#000">Odds ratio (95%CI)</text>
<text x="578.50" y="833.40" font-size="15" text-anchor="middle" fill="#000">Logistic regression:</text>
<text x="578.50" y="849.00" font-size="15" text-anchor="middle" fill="#000">Odds ratio (95%CI)</text>
<text transform="translate(25.9 284.2) rotate(-90)" font-size="15" font-weight="bold" text-anchor="middle" fill="#000">Continuous outcome traits</text>
<text transform="translate(25.9 691.0) rotate(-90)" font-size="15" font-weight="bold" text-anchor="middle" fill="#000">Binary outcome traits</text>
<text x="2.00" y="13.70" font-size="18" text-anchor="start" fill="#000">A</text>
<text x="358.60" y="13.70" font-size="18" text-anchor="start" fill="#000">B</text>
<text x="1.60" y="581.40" font-size="18" text-anchor="start" fill="#000">C</text>
<text x="358.60" y="581.60" font-size="18" text-anchor="start" fill="#000">D</text>
<text x="210.20" y="888.80" font-size="15" text-anchor="start" fill="#000">Predictor</text>
<line x1="279.80" y1="883.70" x2="296.90" y2="883.70" stroke="#D92A67" stroke-width="3.0"/>
<circle cx="288.35" cy="883.70" r="3.7" fill="#D92A67"/>
<text x="306.80" y="888.00" font-size="12" text-anchor="start" fill="#1A1A1A">Difference score</text>
<line x1="403.50" y1="883.70" x2="420.60" y2="883.70" stroke="#E9C130" stroke-width="3.0"/>
<circle cx="412.05" cy="883.70" r="3.7" fill="#E9C130"/>
<text x="430.50" y="888.00" font-size="12" text-anchor="start" fill="#1A1A1A">Ratio score</text>
<line x1="500.90" y1="883.70" x2="518.00" y2="883.70" stroke="#215843" stroke-width="3.0"/>
<circle cx="509.45" cy="883.70" r="3.7" fill="#215843"/>
<text x="527.90" y="888.00" font-size="12" text-anchor="start" fill="#1A1A1A">Residual score</text>
</svg></body></html>
